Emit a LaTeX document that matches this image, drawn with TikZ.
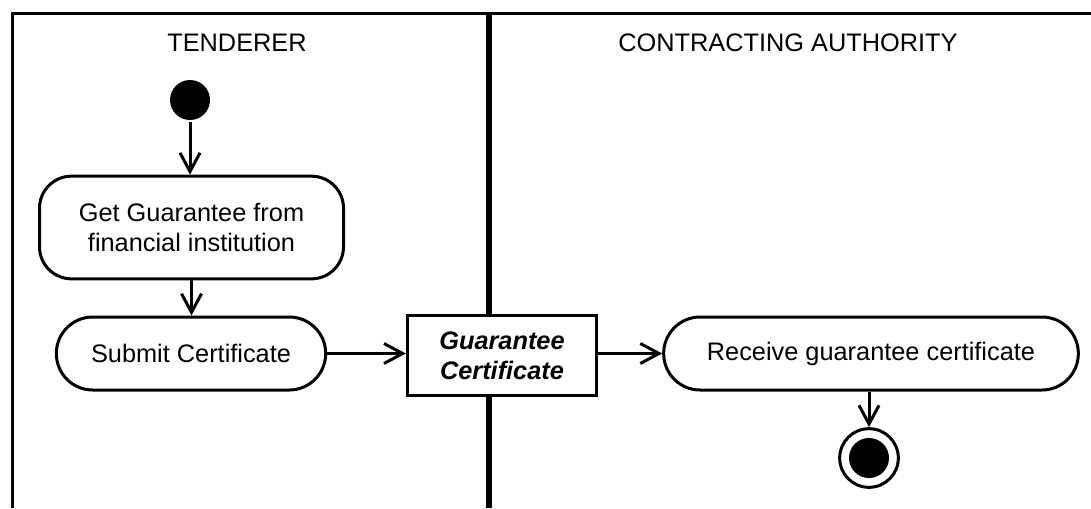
\documentclass[tikz,border=0pt]{standalone}
\usepackage{fontspec}
\setmainfont{Liberation Sans}
\usetikzlibrary{arrows.meta,positioning,shapes}

\begin{document}
\begin{tikzpicture}[x=0.75pt,y=-0.75pt,line width=2.25pt,
    font=\fontsize{19}{22.5}\selectfont,
    action/.style={draw, rectangle, fill=white, inner sep=0pt, align=center, minimum height=54.75pt, rounded corners=27.3pt},
    object/.style={draw, rectangle, fill=white, inner sep=0pt, align=center, font=\fontsize{19}{22.5}\selectfont\bfseries\itshape},
    flow/.style={-{Straight Barb[length=14pt,width=15pt]}}]
        \useasboundingbox (0,0) rectangle (1091,508);
        \draw (12,508) -- (12,13) -- (1091,13);
        \draw [line width=5pt] (489,13) -- (489,508);
        \node (tenderer) at (237,43) {TENDERER};
        \node (authority) at (788,43) {CONTRACTING AUTHORITY};
        \node [circle, fill, inner sep=0pt, minimum size=30pt] (start) at (190,100) {};
        \node [action, minimum width=228pt, minimum height=77pt, rounded corners=24pt] (get) at (191.5,227.5) {Get Guarantee from\\financial institution};
        \node [action, minimum width=202pt] (submit) at (191,353.5) {Submit Certificate};
        \node [object, minimum width=142pt, minimum height=60.5pt] (cert) at (502,355.5) {Guarantee\\Certificate};
        \node [action, minimum width=311pt] (receive) at (871,353.5) {Receive guarantee certificate};
        \node [circle, draw, inner sep=0pt, minimum size=44pt] (final) at (869,458) {};
        \node [circle, fill, inner sep=0pt, minimum size=30pt] (finaldot) at (final) {};
        \draw [flow] (start) -- (start |- get.north);
        \draw [flow] (get.south) -- (get.south |- submit.north);
        \draw [flow] (submit.east) -- (submit.east -| cert.west);
        \draw [flow] (cert.east |- receive.west) -- (receive.west);
        \draw [flow] (final.north |- receive.south) -- (final.north);
\end{tikzpicture}
\end{document}
